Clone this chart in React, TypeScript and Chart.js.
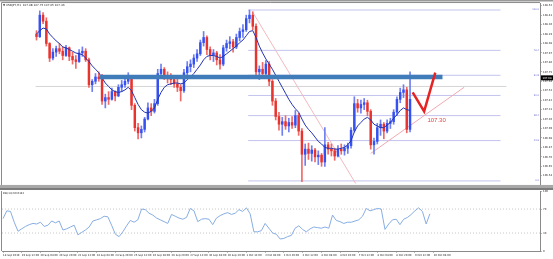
import React, { useEffect, useRef } from "react";
import { Chart, registerables } from "chart.js";

Chart.register(...registerables);

const symbolTitle = "\u25BC USDJPY,H1  107.08 107.75 107.05 107.43";
const rsiTitle = "RSI(14) 60.0142";

const timeLabels = [
  "18 Sep 2019", "19 Sep 12:00", "20 Sep 04:00", "20 Sep 20:00", "23 Sep 12:00", "24 Sep 04:00",
  "24 Sep 20:00", "25 Sep 12:00", "26 Sep 04:00", "26 Sep 20:00", "27 Sep 12:00", "30 Sep 04:00",
  "30 Sep 20:00", "1 Oct 12:00", "2 Oct 04:00", "2 Oct 20:00", "3 Oct 12:00", "4 Oct 04:00",
  "4 Oct 20:00", "7 Oct 12:00", "8 Oct 04:00", "8 Oct 20:00", "9 Oct 12:00", "10 Oct 04:00",
];
const barsPerLabel = 5;

const opens = [
  108.19, 108.16, 108.41, 108.34, 108.08, 107.91, 107.98, 108.02, 107.99, 107.94,
  108.03, 107.93, 107.89, 107.87, 107.97, 107.99, 107.89, 107.60, 107.64, 107.69,
  107.67, 107.41, 107.45, 107.43, 107.52, 107.47, 107.57, 107.60, 107.64, 107.68,
  107.36, 107.10, 107.04, 107.08, 107.20, 107.33, 107.29, 107.38, 107.73, 107.78,
  107.71, 107.67, 107.66, 107.61, 107.57, 107.53, 107.74, 107.81, 107.84, 107.91,
  107.96, 108.09, 108.15, 108.01, 107.95, 107.97, 107.89, 107.84, 108.03, 108.08,
  108.10, 108.04, 108.15, 108.22, 108.24, 108.37, 108.41, 108.28, 107.75, 107.78,
  107.73, 107.84, 107.64, 107.41, 107.23, 107.14, 107.17, 107.12, 107.16, 107.13,
  107.24, 107.06, 106.79, 106.85, 106.80, 106.84, 106.76, 106.78, 106.70, 106.90,
  106.85, 106.83, 106.77, 106.85, 106.83, 106.86, 106.89, 107.07, 107.38, 107.33,
  107.37, 107.39, 107.29, 106.90, 106.94, 107.10, 107.14, 107.06, 107.15, 107.17,
  107.28, 107.43, 107.51, 107.54, 107.08,
];
const highs = [
  108.23, 108.46, 108.44, 108.38, 108.09, 108.02, 108.05, 108.08, 108.04, 108.06,
  108.04, 107.98, 107.94, 108.01, 108.04, 108.02, 107.91, 107.66, 107.73, 107.75,
  107.72, 107.49, 107.52, 107.56, 107.53, 107.60, 107.65, 107.67, 107.74, 107.69,
  107.38, 107.15, 107.12, 107.22, 107.39, 107.38, 107.43, 107.78, 107.84, 107.80,
  107.75, 107.73, 107.69, 107.67, 107.60, 107.78, 107.87, 107.89, 107.95, 108.01,
  108.12, 108.22, 108.17, 108.04, 108.01, 107.99, 107.95, 108.06, 108.12, 108.16,
  108.13, 108.19, 108.26, 108.30, 108.41, 108.47, 108.45, 108.31, 107.82, 107.86,
  107.88, 107.87, 107.66, 107.44, 107.28, 107.22, 107.24, 107.21, 107.23, 107.30,
  107.27, 107.09, 106.91, 106.92, 106.89, 106.86, 106.83, 106.80, 107.10, 106.93,
  106.91, 106.86, 106.89, 106.91, 106.90, 106.92, 107.10, 107.46, 107.43, 107.42,
  107.44, 107.42, 107.31, 106.98, 107.15, 107.19, 107.16, 107.19, 107.21, 107.31,
  107.46, 107.56, 107.60, 107.57, 107.75,
];
const lows = [
  108.12, 108.15, 108.31, 108.05, 107.87, 107.89, 107.93, 107.96, 107.89, 107.93,
  107.88, 107.84, 107.79, 107.86, 107.93, 107.87, 107.57, 107.52, 107.61, 107.64,
  107.37, 107.33, 107.37, 107.42, 107.41, 107.46, 107.52, 107.57, 107.61, 107.31,
  107.06, 106.97, 106.98, 107.05, 107.19, 107.24, 107.27, 107.36, 107.68, 107.66,
  107.62, 107.60, 107.57, 107.52, 107.41, 107.51, 107.71, 107.75, 107.80, 107.87,
  107.94, 108.05, 107.95, 107.89, 107.87, 107.83, 107.78, 107.82, 107.99, 108.02,
  107.98, 108.02, 108.11, 108.15, 108.22, 108.32, 108.24, 107.71, 107.66, 107.68,
  107.71, 107.59, 107.36, 107.19, 107.07, 107.01, 107.08, 107.05, 107.09, 107.10,
  107.01, 106.47, 106.66, 106.73, 106.71, 106.70, 106.67, 106.65, 106.65, 106.79,
  106.77, 106.72, 106.76, 106.79, 106.78, 106.80, 106.86, 107.05, 107.28, 107.27,
  107.31, 107.24, 106.85, 106.79, 106.91, 107.01, 106.97, 107.04, 107.09, 107.14,
  107.24, 107.39, 107.45, 107.04, 107.05,
];
const closes = [
  108.16, 108.41, 108.34, 108.08, 107.91, 107.98, 108.02, 107.99, 107.94, 108.03,
  107.93, 107.89, 107.87, 107.97, 107.99, 107.89, 107.60, 107.64, 107.69, 107.67,
  107.41, 107.45, 107.43, 107.52, 107.47, 107.57, 107.60, 107.64, 107.68, 107.36,
  107.10, 107.04, 107.08, 107.20, 107.33, 107.29, 107.38, 107.73, 107.78, 107.71,
  107.67, 107.66, 107.61, 107.57, 107.53, 107.74, 107.81, 107.84, 107.91, 107.96,
  108.09, 108.15, 108.01, 107.95, 107.97, 107.89, 107.84, 108.03, 108.08, 108.10,
  108.04, 108.15, 108.22, 108.24, 108.37, 108.41, 108.28, 107.75, 107.78, 107.73,
  107.84, 107.64, 107.41, 107.23, 107.14, 107.17, 107.12, 107.16, 107.13, 107.24,
  107.06, 106.79, 106.85, 106.80, 106.84, 106.76, 106.78, 106.70, 106.90, 106.85,
  106.83, 106.77, 106.85, 106.83, 106.86, 106.89, 107.07, 107.38, 107.33, 107.37,
  107.39, 107.29, 106.90, 106.94, 107.10, 107.14, 107.06, 107.15, 107.17, 107.28,
  107.43, 107.51, 107.54, 107.08, 107.43,
];
const maValues = [
  108.19, 108.23, 108.26, 108.25, 108.19, 108.15, 108.11, 108.08, 108.04, 108.03,
  108.01, 107.99, 107.97, 107.96, 107.95, 107.91, 107.87, 107.82, 107.78, 107.74,
  107.68, 107.62, 107.58, 107.54, 107.52, 107.51, 107.52, 107.54, 107.57, 107.53,
  107.45, 107.37, 107.31, 107.28, 107.27, 107.29, 107.33, 107.43, 107.51, 107.57,
  107.60, 107.61, 107.62, 107.62, 107.61, 107.62, 107.66, 107.69, 107.73, 107.78,
  107.83, 107.89, 107.93, 107.94, 107.94, 107.93, 107.91, 107.93, 107.96, 107.99,
  108.02, 108.05, 108.09, 108.12, 108.17, 108.22, 108.23, 108.15, 108.05, 107.97,
  107.90, 107.84, 107.78, 107.71, 107.64, 107.57, 107.50, 107.43, 107.37, 107.32,
  107.28, 107.20, 107.13, 107.08, 107.04, 106.99, 106.94, 106.91, 106.87, 106.86,
  106.86, 106.85, 106.85, 106.86, 106.87, 106.90, 106.95, 107.05, 107.12, 107.16,
  107.20, 107.22, 107.19, 107.14, 107.12, 107.10, 107.10, 107.13, 107.16, 107.21,
  107.25, 107.30, 107.33, 107.31, 107.30,
];
const rsiValues = [
  54, 67, 66, 48, 33, 37, 41, 44, 46, 45,
  48, 41, 43, 50, 47, 50, 35, 37, 40, 43,
  27, 31, 35, 40, 50, 52, 54, 58, 57, 43,
  28, 24, 32, 42, 51, 48, 52, 70, 69, 63,
  60, 55, 52, 49, 46, 61, 58, 55, 53, 56,
  71, 67, 49, 53, 54, 53, 44, 55, 59, 62,
  64, 61, 63, 69, 66, 72, 62, 32, 32, 34,
  46, 38, 30, 28, 20, 21, 24, 26, 38, 42,
  36, 32, 37, 40, 39, 38, 40, 38, 60, 51,
  49, 46, 48, 48, 50, 52, 58, 71, 67, 69,
  71, 70, 36, 45, 52, 53, 44, 53, 56, 61,
  67, 72, 66, 45, 62,
];

const priceTicks = [
  108.52, 108.41, 108.3, 108.19, 108.08, 107.97, 107.86, 107.75, 107.64, 107.53,
  107.42, 107.31, 107.2, 107.09, 106.98, 106.87, 106.76, 106.65, 106.54,
];
const priceMin = 106.433;
const priceMax = 108.551;
const rsiTicks = [0, 30, 70, 100];
const rsiLevels = [30, 70];

const fibHigh = 108.47;
const fibLow = 106.48;
const fibRatios = [0, 23.6, 38.2, 50, 61.8, 76.4, 100];
const fibStartIdx = 64.6;
const fibEndIdx = 141.6;
const bandLevel = 107.69;
const bandStartIdx = 19.2;
const bandEndIdx = 123.9;
const hLineLevel = 107.58;
const fibDiagonal = [{ x: 65.9, y: 108.45 }, { x: 97.4, y: 106.45 }];
const trendLine = [{ x: 102.0, y: 106.8 }, { x: 130.5, y: 107.57 }];
const checkMark = [{ x: 114.8, y: 107.51 }, { x: 118.3, y: 107.29 }, { x: 121.7, y: 107.74 }];
const targetLabel = { text: "107.30", x: 119.3, y: 107.19 };
const bidPrice = 107.68;
const xMin = -0.27;
const xMax = 143.4;

const UP = "#3552f0";
const DOWN = "#e8342f";
const UP_WICK = "#6f7ff0";
const DOWN_WICK = "#ef6a66";
const TICK_FONT = { size: 2.6, family: "DejaVu Sans" };

export default function App() {
  const mainRef = useRef<HTMLCanvasElement>(null);
  const rsiRef = useRef<HTMLCanvasElement>(null);

  useEffect(() => {
    const idx = opens.map((_, i) => i);
    const isUp = (i: number) => closes[i] >= opens[i];
    const fibLevel = (r: number) => fibLow + ((fibHigh - fibLow) * r) / 100;

    const mainDecor = {
      id: "mainDecor",
      beforeDraw(chart: any) {
        const { ctx, width, height } = chart;
        ctx.save();
        ctx.fillStyle = "#ffffff";
        ctx.fillRect(0, 0, width, height);
        ctx.restore();
      },
      afterDraw(chart: any) {
        const { ctx, chartArea: a, scales, width, height } = chart;
        const x = scales.x;
        const y = scales.y;
        ctx.save();
        ctx.fillStyle = "#9a9a9a";
        ctx.fillRect(0, 0, width, 1.5);
        ctx.fillStyle = "#a8a8a8";
        ctx.fillRect(0, a.bottom, width, height - a.bottom);
        ctx.strokeStyle = "#8a8a8a";
        ctx.lineWidth = 1;
        ctx.beginPath();
        ctx.moveTo(a.left - 0.5, a.top - 0.5);
        ctx.lineTo(a.right, a.top - 0.5);
        ctx.moveTo(a.left - 0.5, a.top - 0.5);
        ctx.lineTo(a.left - 0.5, a.bottom);
        ctx.stroke();

        ctx.fillStyle = "#222";
        ctx.font = "2.8px DejaVu Sans";
        ctx.textBaseline = "top";
        ctx.textAlign = "left";
        ctx.fillText(symbolTitle, a.left + 1, a.top + 0.5);

        ctx.fillStyle = "#6a6ad0";
        ctx.font = "2.4px DejaVu Sans";
        ctx.textAlign = "right";
        ctx.textBaseline = "bottom";
        fibRatios.forEach((r) => {
          ctx.fillText(r.toFixed(1), a.right - 1, y.getPixelForValue(fibLevel(r)) + 1);
        });

        ctx.fillStyle = "#e04848";
        ctx.font = "6px Liberation Sans";
        ctx.textAlign = "left";
        ctx.textBaseline = "middle";
        ctx.fillText(targetLabel.text, x.getPixelForValue(targetLabel.x), y.getPixelForValue(targetLabel.y));

        const by = y.getPixelForValue(bidPrice);
        ctx.fillStyle = "#000";
        ctx.fillRect(a.right + 1, by - 2.5, width - a.right - 1, 5);
        ctx.fillStyle = "#fff";
        ctx.font = "2.6px DejaVu Sans";
        ctx.fillText(bidPrice.toFixed(2), a.right + 2.5, by);
        ctx.restore();
      },
    };

    const rsiDecor = {
      id: "rsiDecor",
      beforeDraw(chart: any) {
        const { ctx, width, height } = chart;
        ctx.save();
        ctx.fillStyle = "#ffffff";
        ctx.fillRect(0, 0, width, height);
        ctx.restore();
      },
      afterDraw(chart: any) {
        const { ctx, chartArea: a, width } = chart;
        ctx.save();
        ctx.fillStyle = "#7c7c7c";
        ctx.fillRect(0, 0, width, 2);
        ctx.strokeStyle = "#8a8a8a";
        ctx.lineWidth = 1;
        ctx.beginPath();
        ctx.moveTo(a.left - 0.5, a.top);
        ctx.lineTo(a.left - 0.5, a.bottom);
        ctx.stroke();
        ctx.fillStyle = "#222";
        ctx.font = "2.6px DejaVu Sans";
        ctx.textBaseline = "top";
        ctx.textAlign = "left";
        ctx.fillText(rsiTitle, a.left + 1, a.top + 1);
        ctx.restore();
      },
    };

    const lineDs = (data: any[], color: string, width: number, order: number, extra: any = {}) => ({
      type: "line",
      data,
      borderColor: color,
      borderWidth: width,
      pointRadius: 0,
      fill: false,
      tension: 0,
      order,
      ...extra,
    });

    const main = new Chart(mainRef.current as HTMLCanvasElement, {
      type: "bar",
      data: {
        datasets: [
          lineDs(checkMark, "#e62222", 2.5, 0),
          lineDs(
            [{ x: bandStartIdx, y: bandLevel }, { x: bandEndIdx, y: bandLevel }],
            "#3f7cb9",
            4.5,
            1,
            { borderCapStyle: "butt" }
          ),
          lineDs(maValues.map((v, i) => ({ x: i, y: v })), "#2233b0", 1, 2),
          {
            type: "bar",
            data: idx.map((i) => ({ x: i, y: [opens[i], closes[i]] })),
            backgroundColor: idx.map((i) => (isUp(i) ? UP : DOWN)),
            barThickness: 1.8,
            grouped: false,
            minBarLength: 1,
            borderWidth: 0,
            order: 3,
          },
          {
            type: "bar",
            data: idx.map((i) => ({ x: i, y: [lows[i], highs[i]] })),
            backgroundColor: idx.map((i) => (isUp(i) ? UP_WICK : DOWN_WICK)),
            barThickness: 1,
            grouped: false,
            borderWidth: 0,
            order: 4,
          },
          lineDs(trendLine, "#f2a9b3", 1, 5),
          lineDs(fibDiagonal, "#f3b9c1", 1, 5),
          ...fibRatios.map((r) =>
            lineDs(
              [{ x: fibStartIdx, y: fibLevel(r) }, { x: fibEndIdx, y: fibLevel(r) }],
              "#c3c3ee",
              1,
              6
            )
          ),
          lineDs([{ x: xMin, y: hLineLevel }, { x: xMax, y: hLineLevel }], "#d4d4d4", 1, 7),
        ] as any,
      },
      options: {
        responsive: false,
        animation: false,
        devicePixelRatio: 1,
        layout: { padding: { left: 2, top: 3, right: 0, bottom: 2 } },
        plugins: { legend: { display: false }, tooltip: { enabled: false } },
        scales: {
          x: { type: "linear", min: xMin, max: xMax, display: false },
          y: {
            type: "linear",
            position: "right",
            min: priceMin,
            max: priceMax,
            afterFit: (s: any) => {
              s.width = 13;
            },
            afterBuildTicks: (s: any) => {
              s.ticks = priceTicks.map((v) => ({ value: v }));
            },
            ticks: {
              font: TICK_FONT,
              color: "#222",
              padding: 1.5,
              autoSkip: false,
              callback: (v: any) => Number(v).toFixed(2),
            },
            grid: { display: true, drawOnChartArea: false, tickLength: 1.5, color: "#777" },
            border: { display: true, color: "#8a8a8a" },
          },
        },
      } as any,
      plugins: [mainDecor],
    });

    const rsi = new Chart(rsiRef.current as HTMLCanvasElement, {
      type: "line",
      data: {
        datasets: [
          lineDs(rsiValues.map((v, i) => ({ x: i, y: v })), "#88aee4", 1, 0),
          ...rsiLevels.map((l) =>
            lineDs([{ x: xMin, y: l }, { x: xMax, y: l }], "#c8c8c8", 1, 1, { borderDash: [1, 2] })
          ),
        ] as any,
      },
      options: {
        responsive: false,
        animation: false,
        devicePixelRatio: 1,
        layout: { padding: { left: 2, top: 2, right: 0, bottom: 0 } },
        plugins: { legend: { display: false }, tooltip: { enabled: false } },
        scales: {
          x: {
            type: "linear",
            min: xMin,
            max: xMax,
            afterFit: (s: any) => {
              s.height = 8;
            },
            afterBuildTicks: (s: any) => {
              s.ticks = timeLabels.map((_, k) => ({ value: k * barsPerLabel }));
            },
            ticks: {
              autoSkip: false,
              maxRotation: 0,
              align: "start",
              font: TICK_FONT,
              color: "#222",
              padding: 1,
              callback: (v: any) => timeLabels[Math.round(Number(v) / barsPerLabel)] ?? "",
            },
            grid: { display: true, drawOnChartArea: false, tickLength: 1.5, color: "#777" },
            border: { display: true, color: "#8a8a8a" },
          },
          y: {
            type: "linear",
            position: "right",
            min: 0,
            max: 100,
            afterFit: (s: any) => {
              s.width = 13;
            },
            afterBuildTicks: (s: any) => {
              s.ticks = rsiTicks.map((v) => ({ value: v }));
            },
            ticks: {
              font: TICK_FONT,
              color: "#222",
              padding: 1.5,
              autoSkip: false,
              callback: (v: any) => String(v),
            },
            grid: { display: true, drawOnChartArea: false, tickLength: 1.5, color: "#777" },
            border: { display: true, color: "#8a8a8a" },
          },
        },
      } as any,
      plugins: [rsiDecor],
    });

    return () => {
      main.destroy();
      rsi.destroy();
    };
  }, []);

  return (
    <div style={{ position: "fixed", left: 0, top: 0, width: 553, height: 259, background: "#fff" }}>
      <canvas ref={mainRef} width={553} height={188} style={{ position: "absolute", left: 0, top: 0 }} />
      <canvas ref={rsiRef} width={553} height={71} style={{ position: "absolute", left: 0, top: 188 }} />
    </div>
  );
}
